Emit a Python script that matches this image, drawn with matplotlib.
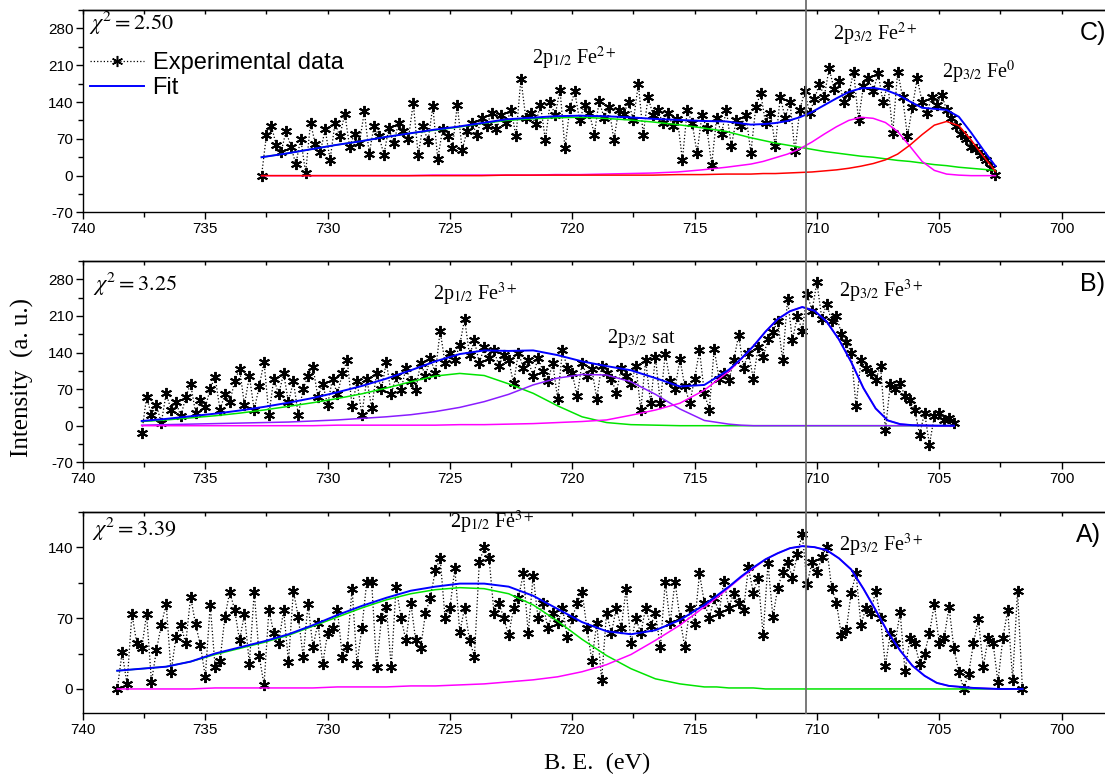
import numpy as np
import matplotlib
matplotlib.use("Agg")
import matplotlib.pyplot as plt
import matplotlib.transforms as mtransforms
from matplotlib.lines import Line2D
from matplotlib.ticker import MultipleLocator

plt.rcParams.update({
    "font.family": ["Liberation Sans", "DejaVu Sans"],
    "mathtext.fontset": "stix",
    "axes.unicode_minus": False,
    "axes.linewidth": 1.0,
    "xtick.major.width": 1.0,
    "ytick.major.width": 1.0,
    "xtick.minor.width": 1.0,
    "ytick.minor.width": 1.0,
})

SERIF = ["Liberation Serif", "DejaVu Serif"]

# ---------------------------------------------------------------------------
# Data
# ---------------------------------------------------------------------------
ref_energy = 710.45  # vertical marker line (eV)

# Panel C -- experimental points, 0.2 eV steps from 732.7 to 702.7 eV
c_exp_range = (732.7, 702.7)
c_exp = [
    0, 78, 95, 58, 45, 85, 55, 22, 70, 5, 100, 60, 45, 88, 30, 100, 75, 118, 55, 80, 62, 122, 42, 95, 75,
    40, 90, 62, 100, 85, 70, 138, 40, 95, 65, 132, 32, 88, 75, 52, 135, 49, 85, 100, 78, 110, 95, 120, 88, 115,
    100, 125, 75, 184, 110, 120, 98, 135, 68, 140, 115, 163, 52, 128, 160, 105, 135, 120, 78, 142, 110, 130, 68, 125, 118,
    140, 105, 174, 78, 150, 115, 125, 100, 120, 95, 108, 30, 125, 100, 43, 115, 90, 21, 110, 80, 125, 56, 105, 95, 115,
    43, 130, 157, 100, 120, 56, 150, 110, 140, 46, 125, 160, 119, 145, 175, 150, 204, 165, 180, 140, 155, 198, 106, 170, 185,
    160, 195, 140, 175, 81, 198, 150, 75, 130, 185, 140, 120, 150, 135, 154, 125, 110, 95, 80, 70, 55, 50, 40, 30, 15,
    2,
]
c_fit_e = [732.7, 731.7, 730.7, 729.7, 728.7, 727.7, 726.7, 725.7, 724.7, 723.7,
           722.7, 721.7, 720.7, 719.7, 718.7, 717.7, 716.7, 715.7, 714.7, 713.7,
           712.7, 712.2, 711.7, 711.2, 710.7, 710.2, 709.7, 709.2, 708.7, 708.2,
           707.7, 707.2, 706.7, 706.2, 705.7, 705.2, 704.7, 704.2, 703.7, 703.2, 702.7]
c_green = [35, 42, 50, 58, 65, 73, 80, 86, 92, 99,
           105, 108, 110, 111, 109, 106, 102, 97, 91, 84,
           72, 67, 62, 58, 54, 50, 46, 43, 40, 37,
           35, 32, 29, 27, 24, 21, 19, 16, 14, 12, 10]
c_magenta = [0, 0, 0, 0, 0, 0, 0, 1, 1, 1,
             1, 1, 2, 2, 3, 4, 5, 7, 11, 16,
             22, 27, 34, 41, 51, 64, 79, 93, 105, 111,
             109, 101, 84, 56, 27, 10, 3, 1, 0, 0, 0]
c_red = [0, 0, 0, 0, 0, 0, 0, 0, 0, 0,
         1, 1, 1, 1, 1, 1, 1, 2, 2, 3,
         3, 4, 4, 5, 6, 7, 9, 11, 14, 18,
         23, 30, 41, 58, 78, 96, 103, 95, 68, 37, 8]

# Panel B -- experimental points, 0.2 eV steps from 737.6 to 704.4 eV
b_exp_range = (737.6, 704.4)
b_exp = [
    -14, 55, 20, 40, 5, 62, 30, 45, 18, 55, 80, 25, 50, 35, 70, 94, 30, 60, 45, 85,
    109, 40, 95, 30, 75, 122, 21, 90, 60, 100, 45, 85, 21, 70, 95, 113, 55, 80, 40, 90,
    60, 100, 125, 37, 85, 21, 90, 34, 100, 70, 122, 60, 95, 68, 110, 85, 68, 120, 95, 130,
    100, 182, 119, 140, 125, 155, 204, 135, 163, 120, 150, 130, 144, 115, 135, 125, 81, 140, 110, 125,
    95, 130, 105, 85, 120, 52, 144, 110, 100, 56, 120, 95, 108, 52, 115, 100, 90, 62, 110, 95,
    80, 115, 30, 125, 43, 131, 43, 138, 85, 70, 128, 75, 43, 90, 144, 62, 30, 147, 90, 100,
    87, 125, 173, 110, 140, 90, 150, 131, 165, 180, 200, 125, 242, 163, 210, 182, 252, 220, 274, 205,
    233, 200, 210, 176, 160, 140, 37, 125, 110, 100, 87, 115, -8, 80, 70, 81, 56, 49, 30, -17,
    25, -36, 18, 25, 10, 15, 5,
]
b_fit_e = [737.6, 736.6, 735.6, 734.6, 733.6, 732.6, 731.6, 730.6, 729.6, 728.6,
           727.6, 726.6, 725.6, 724.6, 723.6, 722.6, 721.6, 720.6, 719.6, 718.6,
           717.6, 716.6, 715.6, 714.6, 713.6, 713.1, 712.6, 712.1, 711.6, 711.1,
           710.6, 710.1, 709.6, 709.1, 708.6, 708.1, 707.6, 707.1, 706.6, 706.1,
           705.1, 704.4]
b_green = [8, 11, 15, 19, 24, 30, 37, 44, 52, 61,
           72, 84, 95, 100, 96, 80, 62, 38, 17, 6,
           2, 1, 0, 0, 0, 0, 0, 0, 0, 0,
           0, 0, 0, 0, 0, 0, 0, 0, 0, 0, 0, 0]
b_violet = [1, 2, 3, 4, 5, 6, 7, 9, 11, 14,
            17, 21, 27, 35, 46, 60, 78, 91, 98, 97,
            84, 60, 32, 10, 3, 1, 0, 0, 0, 0,
            0, 0, 0, 0, 0, 0, 0, 0, 0, 0, 0, 0]
b_magenta = [0, 0, 0, 0, 0, 0, 0, 0, 1, 1,
             1, 1, 1, 2, 2, 3, 4, 6, 8, 11,
             20, 30, 43, 68, 104, 127, 152, 180, 204, 219,
             227, 220, 199, 165, 122, 72, 33, 10, 3, 1, 0, 0]

# Panel A -- experimental points, 0.2 eV steps from 738.6 to 701.6 eV
a_exp_range = (738.6, 701.6)
a_exp = [
    0, 36, 5, 74, 45, 40, 74, 7, 38, 63, 84, 17, 51, 63, 45, 91, 64, 43, 12, 83,
    22, 28, 71, 96, 78, 48, 74, 25, 96, 33, 4, 78, 55, 45, 78, 27, 97, 71, 32, 84,
    41, 65, 25, 55, 60, 78, 32, 41, 99, 25, 60, 106, 106, 22, 70, 81, 22, 101, 70, 48,
    85, 48, 40, 75, 90, 117, 129, 70, 80, 119, 56, 80, 48, 32, 125, 140, 129, 75, 85, 70,
    53, 80, 90, 114, 55, 112, 70, 85, 60, 75, 65, 80, 51, 70, 85, 96, 60, 28, 65, 9,
    75, 55, 80, 60, 99, 45, 70, 55, 80, 62, 75, 41, 106, 65, 106, 70, 41, 80, 64, 114,
    85, 70, 90, 75, 107, 80, 95, 85, 78, 120, 95, 110, 53, 124, 71, 100, 115, 125, 110, 133,
    153, 104, 125, 115, 130, 140, 100, 85, 53, 58, 95, 114, 63, 80, 75, 97, 70, 23, 55, 45,
    76, 18, 50, 45, 25, 35, 55, 84, 45, 50, 81, 40, 17, 0, 15, 45, 69, 22, 50, 45,
    7, 50, 78, 9, 97, 0,
]
a_fit_e = [738.6, 737.6, 736.6, 735.6, 734.6, 733.6, 732.6, 731.6, 730.6, 729.6,
           728.6, 727.6, 726.6, 725.6, 724.6, 723.6, 722.6, 721.6, 720.6, 719.6,
           718.6, 717.6, 716.6, 715.6, 714.6, 714.1, 713.6, 713.1, 712.6, 712.1,
           711.6, 711.1, 710.6, 710.1, 709.6, 709.1, 708.6, 708.1, 707.6, 707.1,
           706.6, 706.1, 705.6, 705.1, 704.6, 703.6, 702.6, 701.6]
a_green = [18, 20, 22, 27, 34, 40, 46, 53, 62, 71,
           80, 88, 94, 98, 100, 99, 94, 83, 67, 49,
           33, 20, 10, 5, 2, 2, 1, 1, 1, 0,
           0, 0, 0, 0, 0, 0, 0, 0, 0, 0,
           0, 0, 0, 0, 0, 0, 0, 0]
a_magenta = [0, 0, 0, 0, 1, 1, 1, 1, 1, 2,
             2, 2, 3, 3, 4, 5, 7, 9, 12, 17,
             24, 34, 48, 63, 81, 90, 100, 110, 119, 128,
             134, 139, 141, 140, 137, 129, 118, 99, 78, 56,
             38, 23, 13, 6, 3, 1, 0, 0]

# ---------------------------------------------------------------------------
# Figure
# ---------------------------------------------------------------------------
GREEN, MAGENTA, RED, BLUE, VIOLET = "#00e400", "#ff00ff", "#ff0000", "#0000ff", "#8a1cff"
STAR = (6, 2, 0)

fig = plt.figure(figsize=(11.05, 7.78), dpi=100)
W = 0.952
axC = fig.add_axes([0.0751, 0.7269, W, 0.2603])
axB = fig.add_axes([0.0751, 0.4058, W, 0.2587])
axA = fig.add_axes([0.0751, 0.0832, W, 0.2591])


def style_axis(ax, ylim, ymajor):
    ax.set_xlim(740, 697)
    ax.set_ylim(*ylim)
    ax.xaxis.set_major_locator(MultipleLocator(5))
    ax.xaxis.set_minor_locator(MultipleLocator(2.5))
    ax.yaxis.set_major_locator(MultipleLocator(ymajor))
    ax.yaxis.set_minor_locator(MultipleLocator(ymajor / 2))
    ax.tick_params(which="major", direction="out", length=5, pad=2, labelsize=11)
    ax.tick_params(which="minor", direction="out", length=3.5)
    ax.spines["right"].set_visible(False)
    top = ax.secondary_xaxis("top")
    top.xaxis.set_major_locator(MultipleLocator(5))
    top.xaxis.set_minor_locator(MultipleLocator(2.5))
    top.tick_params(which="both", direction="in", length=3, labeltop=False)
    top.spines["top"].set_linewidth(1.0)


def draw_exp(ax, erange, values):
    e = np.linspace(erange[0], erange[1], len(values))
    ax.plot(e, values, color="k", ls=":", lw=0.9, marker=STAR, ms=8,
            mew=1.4, mec="k", zorder=2)


def draw_fit(ax, energies, comps):
    total = np.zeros(len(energies))
    for vals, col in comps:
        ax.plot(energies, vals, color=col, lw=1.1, zorder=3)
        total += np.asarray(vals, dtype=float)
    ax.plot(energies, total, color=BLUE, lw=1.4, zorder=4)


def label(ax, x, y, s, size=14.5):
    ax.text(x, y, s, family=SERIF, fontsize=size, ha="left", va="center")


# Panel C
style_axis(axC, (-70, 315), 70)
draw_exp(axC, c_exp_range, c_exp)
draw_fit(axC, c_fit_e, [(c_green, GREEN), (c_magenta, MAGENTA), (c_red, RED)])
label(axC, 739.75, 290, r"$\chi^2 = 2.50$", 16)
label(axC, 721.65, 222, r"2p$_{1/2}$ Fe$^{2+}$")
label(axC, 709.35, 269, r"2p$_{3/2}$ Fe$^{2+}$")
label(axC, 704.9, 197, r"2p$_{3/2}$ Fe$^{0}$")
axC.text(699.26, 271, "C)", fontsize=18, ha="left", va="center")
handles = [
    Line2D([], [], color="k", ls=":", lw=0.9, marker=STAR, ms=8, mew=1.1),
    Line2D([], [], color=BLUE, lw=1.4),
]
axC.legend(handles, ["Experimental data", "Fit"], loc="upper left",
           bbox_to_anchor=(0.0067, 0.79), frameon=False, fontsize=17,
           handlelength=2.3, handletextpad=0.35, labelspacing=0.1,
           borderaxespad=0, borderpad=0, numpoints=1)

# Panel B
style_axis(axB, (-70, 315), 70)
draw_exp(axB, b_exp_range, b_exp)
draw_fit(axB, b_fit_e, [(b_green, GREEN), (b_violet, VIOLET), (b_magenta, MAGENTA)])
label(axB, 739.6, 271, r"$\chi^2 = 3.25$", 16)
label(axB, 725.7, 252, r"2p$_{1/2}$ Fe$^{3+}$")
label(axB, 718.6, 167, r"2p$_{3/2}$ sat")
label(axB, 709.1, 256, r"2p$_{3/2}$ Fe$^{3+}$")
axB.text(699.26, 271, "B)", fontsize=18, ha="left", va="center")

# Panel A
style_axis(axA, (-24, 175), 70)
draw_exp(axA, a_exp_range, a_exp)
draw_fit(axA, a_fit_e, [(a_green, GREEN), (a_magenta, MAGENTA)])
label(axA, 739.65, 158, r"$\chi^2 = 3.39$", 16)
label(axA, 725.0, 164, r"2p$_{1/2}$ Fe$^{3+}$")
label(axA, 709.1, 142, r"2p$_{3/2}$ Fe$^{3+}$")
axA.text(699.4, 152, "A)", fontsize=18, ha="left", va="center")

# vertical reference line through all panels
trans = mtransforms.blended_transform_factory(axC.transData, fig.transFigure)
fig.add_artist(Line2D([ref_energy, ref_energy], [1.0, 0.0832], transform=trans,
                      color="#6e6e6e", lw=1.3))

fig.text(0.020, 0.515, "Intensity  (a. u.)", family=SERIF, fontsize=18,
         rotation=90, ha="center", va="center")
fig.text(0.540, 0.019, "B. E.  (eV)", family=SERIF, fontsize=17.5,
         ha="center", va="center")

fig.savefig("out.png", dpi=100)
